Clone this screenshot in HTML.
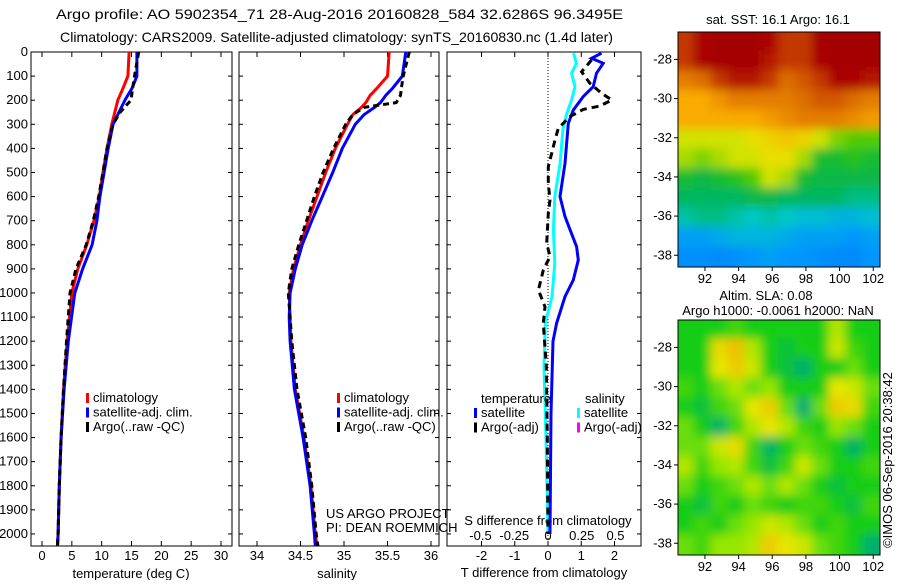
<!DOCTYPE html>
<html><head><meta charset="utf-8"><style>
body{margin:0;background:#fff;}
svg text{font-family:"Liberation Sans",sans-serif;font-size:13px;fill:#000;}
</style></head><body>
<svg id="fig" width="900" height="580" viewBox="0 0 900 580" xmlns="http://www.w3.org/2000/svg">
<defs><filter id="bl" x="-0.1" y="-0.1" width="1.2" height="1.2"><feGaussianBlur stdDeviation="5"/></filter>
<clipPath id="c1"><rect x="678" y="32" width="202" height="235"/></clipPath>
<clipPath id="c2"><rect x="678" y="320" width="202" height="235"/></clipPath></defs>
<text x="56" y="19" textLength="567" lengthAdjust="spacingAndGlyphs" style="font-size:14px">Argo profile: AO 5902354_71 28-Aug-2016 20160828_584 32.6286S 96.3495E</text>
<text x="60" y="42" textLength="553" lengthAdjust="spacingAndGlyphs" style="font-size:14px">Climatology: CARS2009. Satellite-adjusted climatology: synTS_20160830.nc (1.4d later)</text>
<g id="g"></g>
</svg>
<script>
// ---- data ----
const depthTicks=[0,100,200,300,400,500,600,700,800,900,1000,1100,1200,1300,1400,1500,1600,1700,1800,1900,2000];
const tDepth=[0,100,150,200,250,300,400,500,600,700,800,900,1000,1200,1400,1600,1800,2000,2050];
const tClim=[14.6,14.4,13.6,12.7,12.2,11.7,10.9,10.2,9.6,8.7,7.5,6.0,5.0,4.2,3.6,3.2,2.9,2.7,2.6];
const tSat=[15.9,15.9,15.1,13.9,12.9,11.9,11.1,10.4,9.7,9.2,8.4,6.8,5.5,4.4,3.7,3.2,2.9,2.7,2.6];
const tArgo=[16.2,15.5,15.2,14.9,13.1,11.9,10.9,10.2,9.5,8.6,7.4,5.7,4.7,4.1,3.6,3.2,2.9,2.7,2.6];
const sDepth=[0,100,150,180,210,230,260,300,400,500,600,700,800,900,1000,1100,1200,1400,1600,1800,2000,2050];
const sClim=[35.52,35.5,35.38,35.3,35.25,35.2,35.1,35.04,34.9,34.79,34.69,34.59,34.5,34.42,34.37,34.38,34.39,34.44,34.54,34.62,34.67,34.69];
const sSat=[35.71,35.67,35.56,35.48,35.42,35.35,35.23,35.13,34.98,34.87,34.75,34.63,34.52,34.44,34.38,34.37,34.38,34.43,34.53,34.61,34.66,34.67];
const sArgo=[35.75,35.68,35.66,35.65,35.6,35.23,35.1,35.02,34.88,34.76,34.66,34.57,34.48,34.4,34.36,34.38,34.4,34.46,34.56,34.63,34.68,34.7];
const dtDepth=[5,26,47,88,144,185,241,296,462,600,683,808,863,946,1015,1126,1200,1500,2000];
const dtSat=[1.61,1.31,1.66,1.46,1.36,1.06,0.76,0.61,0.51,0.36,0.51,0.86,0.91,0.76,0.51,0.26,0.15,0.09,0.06];
const dsDepth=[5,47,88,144,199,254,323,462,600,738,876,1015,1126,1300,1600,2000];
const dsSat=[0.19,0.21,0.175,0.2,0.175,0.14,0.11,0.09,0.05,0.04,0.05,0.03,-0.02,-0.03,-0.015,0];
const daDepth=[33,82,130,171,199,224,238,268,317,365,420,476,545,614,669,794,849,905,988,1057,1126,1300,1600,2000];
const daArgo=[1.31,1.01,1.26,1.61,1.92,1.56,1.06,0.66,0.31,0.21,0.11,0.01,0.01,0.06,0.01,-0.04,0.06,-0.14,-0.29,-0.09,-0.14,-0.05,-0.02,0];
const tTicks=[0,5,10,15,20,25,30];
const sTicks=[34,34.5,35,35.5,36];
const dTTicks=[-2,-1,0,1,2];
const dSTicks=[-0.5,-0.25,0,0.25,0.5];
const latTicks=[-28,-30,-32,-34,-36,-38];
const lonTicks=[92,94,96,98,100,102];
const sstGrid=[
[.85,.9,.95,.95,.95,.9,.85,.85,.95,.95,.95,.95],
[.85,.9,.95,.95,.95,.88,.85,.85,.9,.95,.95,.95],
[.78,.8,.85,.88,.88,.85,.8,.82,.85,.9,.9,.88],
[.72,.72,.75,.78,.78,.78,.78,.8,.82,.82,.8,.78],
[.72,.72,.72,.72,.72,.74,.76,.78,.78,.78,.76,.74],
[.62,.62,.62,.62,.64,.66,.68,.66,.62,.58,.56,.56],
[.6,.58,.6,.62,.62,.64,.64,.6,.5,.5,.52,.5],
[.5,.48,.5,.52,.56,.62,.6,.5,.48,.48,.48,.48],
[.46,.46,.46,.46,.48,.48,.46,.46,.46,.46,.44,.44],
[.42,.44,.44,.42,.4,.42,.4,.38,.38,.36,.36,.38],
[.32,.32,.34,.36,.36,.36,.34,.32,.32,.32,.3,.32],
[.28,.28,.26,.28,.3,.32,.3,.3,.28,.26,.26,.3]];
const slaGrid=[
[.5,.5,.5,.55,.5,.5,.5,.5,.5,.7,.5,.5],
[.5,.5,.85,.95,.7,.5,.45,.5,.5,.75,.55,.5],
[.5,.5,.8,.9,.75,.5,.45,.35,.5,.5,.6,.5],
[.55,.5,.6,.7,.6,.65,.5,.5,.5,.8,.75,.6],
[.5,.45,.55,.6,.8,.9,.6,.35,.6,.9,.85,.55],
[.6,.5,.4,.55,.7,.8,.7,.55,.5,.65,.6,.5],
[.6,.6,.75,.85,.55,.4,.5,.6,.55,.5,.4,.5],
[.7,.55,.65,.7,.55,.45,.55,.75,.6,.5,.5,.55],
[.6,.5,.55,.6,.7,.6,.7,.6,.5,.45,.5,.5],
[.5,.45,.55,.5,.6,.55,.5,.55,.55,.5,.45,.55],
[.5,.55,.5,.6,.65,.75,.7,.6,.5,.55,.5,.5],
[.6,.55,.65,.65,.7,.9,.8,.75,.6,.55,.5,.35]];
// ---- helpers ----
const NS="http://www.w3.org/2000/svg";const G=document.getElementById('g');
function el(t,a,p){const e=document.createElementNS(NS,t);for(const k in a)e.setAttribute(k,a[k]);(p||G).appendChild(e);return e;}
const Y0=52,Y1=546;const yD=d=>Y0+d*(Y1-Y0)/2050;
const xT=v=>42+v*(221-42)/30;
const xS=v=>257+(v-34)*(431-257)/2;
const xDT=v=>548+v*33.25;
const xDS=v=>548+v*135;
function line(xs,ys,fx,color,w,dash,name){
  const pts=xs.map((v,i)=>fx(v).toFixed(1)+','+yD(ys[i]).toFixed(1)).join(' ');
  const p=el('polyline',{points:pts,fill:'none',stroke:color,'stroke-width':w});
  if(dash)p.setAttribute('stroke-dasharray',dash);
  
  
}
function panel(x0,x1,name){
  const r=el('rect',{x:x0,y:Y0,width:x1-x0,height:Y1-Y0,fill:'none',stroke:'#000','stroke-width':1});
  
  
  depthTicks.forEach(d=>{el('line',{x1:x0,x2:x0+4,y1:yD(d),y2:yD(d),stroke:'#000'});el('line',{x1:x1,x2:x1-4,y1:yD(d),y2:yD(d),stroke:'#000'});});
}
function xticks(ticks,fx,ylab,labels){
  ticks.forEach(v=>{const x=fx(v);el('line',{x1:x,x2:x,y1:Y0,y2:Y0+5,stroke:'#000'});el('line',{x1:x,x2:x,y1:Y1,y2:Y1-5,stroke:'#000'});
    if(labels){const t=el('text',{x:x,y:ylab,'text-anchor':'middle'});t.textContent=String(v);
    
    }});
}
function txt(x,y,s,name,anchor,extra){const t=el('text',Object.assign({x:x,y:y,'text-anchor':anchor||'start'},extra||{}));t.textContent=s;
  
  return t;}
function legend(x,y,items){items.forEach((it,i)=>{el('rect',{x:x,y:y+i*14.5-9,width:3,height:10,fill:it[1]});txt(x+7,y+i*14.5,it[0],'legend-entry');});}
// ---- panel 1 temperature ----
panel(31,232,'temperature-axes');
depthTicks.forEach(d=>{txt(28,yD(d)+4,String(d),'y-tick-label','end');});
xticks(tTicks,xT,560,true);
txt(131,578,'temperature (deg C)','x-axis-title-temperature','middle');
line(tClim,tDepth,xT,'#f00',3,null,'temp-climatology-line');
line(tSat,tDepth,xT,'#00f',3,null,'temp-satellite-line');
line(tArgo,tDepth,xT,'#000',3,'6,4','temp-argo-line');
legend(86,402,[['climatology','#f00'],['satellite-adj. clim.','#00f'],['Argo(..raw -QC)','#000']]);
// ---- panel 2 salinity ----
panel(239,439,'salinity-axes');
xticks(sTicks,xS,560,true);
txt(337,578,'salinity','x-axis-title-salinity','middle');
line(sClim,sDepth,xS,'#f00',3,null,'sal-climatology-line');
line(sSat,sDepth,xS,'#00f',3,null,'sal-satellite-line');
line(sArgo,sDepth,xS,'#000',3,'6,4','sal-argo-line');
legend(337,402,[['climatology','#f00'],['satellite-adj. clim.','#00f'],['Argo(..raw -QC)','#000']]);
txt(326,518,'US ARGO PROJECT','credit-project');
txt(326,532,'PI: DEAN ROEMMICH','credit-pi');
// ---- panel 3 differences ----
panel(447,641,'difference-axes');
el('line',{x1:548,x2:548,y1:Y0,y2:Y1,stroke:'#000','stroke-dasharray':'1,2'});
xticks(dTTicks,xDT,560,true);
dSTicks.forEach(v=>{txt(xDS(v),540,String(v),'s-diff-tick-label','middle');});
txt(548,525,'S difference from climatology','s-diff-axis-title','middle');
txt(544,577,'T difference from climatology','t-diff-axis-title','middle');
line(dsSat,dsDepth,xDS,'#0ff',3,null,'sal-diff-satellite-line');
line(dtSat,dtDepth,xDT,'#00f',3,null,'temp-diff-satellite-line');
line(daArgo,daDepth,xDT,'#000',3,'7,5','temp-diff-argo-line');
txt(481,403,'temperature','legend-title-temperature');
txt(585,403,'salinity','legend-title-salinity');
legend(474,417,[['satellite','#00f'],['Argo(-adj)','#000']]);
legend(577,417,[['satellite','#0ff'],['Argo(-adj)','#f0f']]);
// ---- maps ----
function lerp(stops,v){for(let i=1;i<stops.length;i++){if(v<=stops[i][0]){const a=stops[i-1],b=stops[i],t=(v-a[0])/(b[0]-a[0]);return 'rgb('+[1,2,3].map(k=>Math.round(a[k]+(b[k]-a[k])*t)).join(',')+')';}}const s=stops[stops.length-1];return 'rgb('+s[1]+','+s[2]+','+s[3]+')';}
const sstPal=[[0,0,60,220],[.3,0,150,255],[.4,0,200,200],[.47,0,180,80],[.55,60,200,0],[.63,230,230,0],[.72,250,170,0],[.8,220,110,0],[.9,170,0,0],[1,160,0,0]];
const slaPal=[[0,0,150,170],[.4,0,180,100],[.5,20,205,20],[.65,150,230,0],[.8,230,230,0],[1,240,180,0]];
function map(grid,pal,y0,clip,name){
  const g=el('g',{'clip-path':'url(#'+clip+')'});
  
  
  const inner=el('g',{filter:'url(#bl)'},g);
  const W=202,H=235,cw=W/12,ch=H/12,n=12;
  grid.forEach((row,r)=>row.forEach((v,c)=>{
    const x=678+c*cw-1-(c===0?15:0), y=y0+r*ch-1-(r===0?15:0);
    const w=cw+2+(c===0?15:0)+(c===n-1?15:0), h=ch+2+(r===0?15:0)+(r===n-1?15:0);
    el('rect',{x:x,y:y,width:w,height:h,fill:lerp(pal,v)},inner);}));
  el('rect',{x:678,y:y0,width:W,height:H,fill:'none',stroke:'#000'});
  const yLat=l=>y0+ (-l-26.6)*(H/12.0);
  const xLon=l=>678+(l-90.4)*(W/12.0);
  latTicks.forEach(l=>{const y=yLat(l);el('line',{x1:674,x2:678,y1:y,y2:y,stroke:'#000'});txt(672,y+4,String(l),'map-lat-label','end');});
  lonTicks.forEach(l=>{const x=xLon(l);el('line',{x1:x,x2:x,y1:y0+H,y2:y0+H+4,stroke:'#000'});txt(x,y0+H+16,String(l),'map-lon-label','middle');});
}
map(sstGrid,sstPal,32,'c1','sst-map');
map(slaGrid,slaPal,320,'c2','sla-map');
txt(778,24,'sat. SST: 16.1  Argo: 16.1','sst-map-title','middle');
txt(766,300,'Altim. SLA: 0.08','sla-map-title','middle');
txt(778,315,'Argo h1000: -0.0061 h2000: NaN','sla-map-subtitle','middle');
txt(892,460,'©IMOS 06-Sep-2016 20:38:42','copyright-label','middle',{transform:'rotate(-90 892 460)'});
</script>
</body></html>
